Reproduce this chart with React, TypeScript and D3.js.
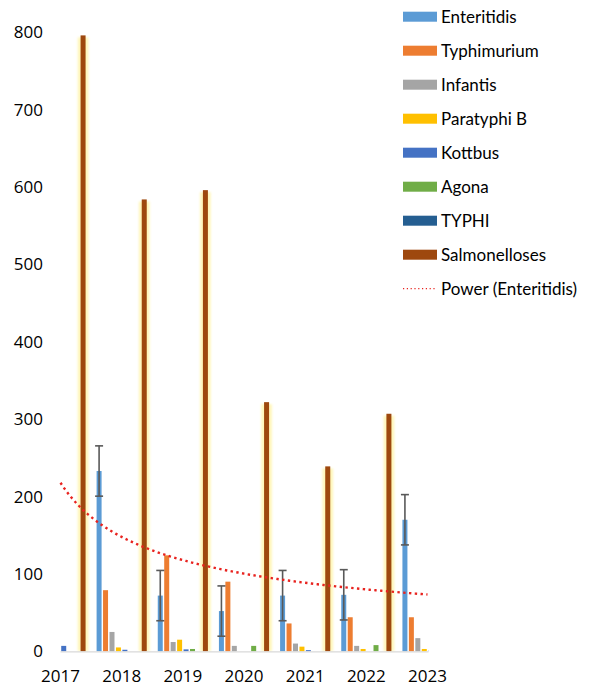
import React from "react";
import * as d3 from "d3";

const years = ["2017", "2018", "2019", "2020", "2021", "2022", "2023"];
const seriesNames = ["Enteritidis", "Typhimurium", "Infantis", "Paratyphi B", "Kottbus", "Agona", "TYPHI", "Salmonelloses"];
const seriesColors = ["#5B9BD5", "#ED7D31", "#A5A5A5", "#FFC000", "#4472C4", "#70AD47", "#255E91", "#9E480E"];

const enteritidis = [254, 233, 72, 52, 72, 73, 170];
const typhimurium = [0, 79, 124, 90, 36, 44, 44];
const infantis = [0, 25, 12, 7, 10, 7, 17];
const paratyphiB = [0, 5, 15, 0, 6, 3, 3];
const kottbus = [7, 2, 2.5, 0, 1.5, 0, 1];
const agona = [0, 0, 3, 7, 0, 8, 0];
const typhi = [0, 0, 0, 0, 0, 0, 0];
const salmonelloses = [796, 584, 596, 322, 239, 307, 0];
const enteritidisError = [32.5, 32.5, 32.5, 32.5, 32.5, 32.5, 32.5];

const yTicks = [0, 100, 200, 300, 400, 500, 600, 700, 800];
const trendLabel = "Power (Enteritidis)";

const allSeries = [enteritidis, typhimurium, infantis, paratyphiB, kottbus, agona, typhi, salmonelloses];

const W = 591, H = 687;
const plotLeft = 60.5, plotRight = 427.5, baseY = 651.3, topY = 32.3;
const FONT = "'Open Sans', sans-serif";
const LFONT = "Lato, 'Open Sans', sans-serif";

export default function App() {
  const x = d3.scalePoint<string>().domain(years).range([plotLeft, plotRight]);
  const y = d3.scaleLinear().domain([0, 800]).range([baseY, topY]);
  const inner = d3.scaleBand<string>().domain(seriesNames).range([-25.8, 25.8]).paddingInner(0.225).paddingOuter(0.1125);
  const bw = inner.bandwidth();

  // Power regression of Enteritidis on category index 1..n
  const lx = enteritidis.map((_, i) => Math.log(i + 1));
  const ly = enteritidis.map((v) => Math.log(v));
  const mx = d3.mean(lx)!, my = d3.mean(ly)!;
  const b = d3.sum(lx.map((v, i) => (v - mx) * (ly[i] - my))) / d3.sum(lx.map((v) => (v - mx) * (v - mx)));
  const a = Math.exp(my - b * mx);
  const trendPts = d3.range(0, 6.001, 0.05).map((t) => [plotLeft + (t / 6) * (plotRight - plotLeft), y(a * Math.pow(t + 1, b))] as [number, number]);
  const trendPath = d3.line()(trendPts) || "";

  const salmIdx = 7;

  return (
    <svg width={W} height={H} style={{ position: "absolute", left: 0, top: 0, background: "#fff" }}>
      <defs>
        <clipPath id="plotclip">
          <rect x={plotLeft} y={0} width={plotRight - plotLeft + 1} height={baseY + 1} />
        </clipPath>
        <filter id="glow" x="-200%" y="-5%" width="500%" height="110%">
          <feGaussianBlur stdDeviation="1.3" />
        </filter>
      </defs>
      {yTicks.map((t) => (
        <text key={t} x={43} y={y(t)} dy="0.35em" textAnchor="end" fontFamily={FONT} fontSize={17} fill="#000">
          {t}
        </text>
      ))}
      <g clipPath="url(#plotclip)">
        {years.map((yr, i) =>
          allSeries.map((s, k) => {
            const v = s[i];
            if (!v) return null;
            const bx = x(yr)! + inner(seriesNames[k])!;
            const top = y(v);
            return (
              <g key={yr + k}>
                {k === salmIdx && (
                  <rect x={bx - 2.8} y={top + 2} width={bw + 5.6} height={baseY - top - 2} fill="#FFF4A8" opacity={0.8} filter="url(#glow)" />
                )}
                <rect x={bx} y={top} width={bw} height={baseY - top} fill={seriesColors[k]} />
              </g>
            );
          })
        )}
      </g>
      <line x1={plotLeft} x2={plotRight + 1} y1={baseY + 0.5} y2={baseY + 0.5} stroke="#D9D9D9" strokeWidth={1.2} />
      {years.map((yr, i) => {
        if (i === 0) return null;
        const cx = x(yr)! + inner(seriesNames[0])! + bw / 2;
        const v = enteritidis[i];
        const e = enteritidisError[i];
        return (
          <g key={"err" + yr} stroke="#595959" strokeWidth={1.6}>
            <line x1={cx} x2={cx} y1={y(v + e)} y2={y(v - e)} />
            <line x1={cx - 4} x2={cx + 4} y1={y(v + e)} y2={y(v + e)} />
            <line x1={cx - 4} x2={cx + 4} y1={y(v - e)} y2={y(v - e)} />
          </g>
        );
      })}
      <path d={trendPath} fill="none" stroke="#E8231F" strokeWidth={2.4} strokeDasharray="2.4 3.4" />
      {years.map((yr) => (
        <text key={"xl" + yr} x={x(yr)!} y={676.5} dy="0.35em" textAnchor="middle" fontFamily={FONT} fontSize={17} fill="#000">
          {yr}
        </text>
      ))}
      {seriesNames.map((n, k) => (
        <g key={"lg" + n}>
          <rect x={403} y={16.7 + k * 34 - 5} width={34} height={10} fill={seriesColors[k]} />
          <text x={441} y={16.7 + k * 34} dy="0.35em" fontFamily={LFONT} fontSize={17} fill="#000">
            {n}
          </text>
        </g>
      ))}
      <line x1={403} x2={437} y1={16.7 + 8 * 34} y2={16.7 + 8 * 34} stroke="#E8231F" strokeWidth={1.2} strokeDasharray="1.2 2.6" />
      <text x={441} y={16.7 + 8 * 34} dy="0.35em" fontFamily={LFONT} fontSize={17} fill="#000">
        {trendLabel}
      </text>
    </svg>
  );
}
